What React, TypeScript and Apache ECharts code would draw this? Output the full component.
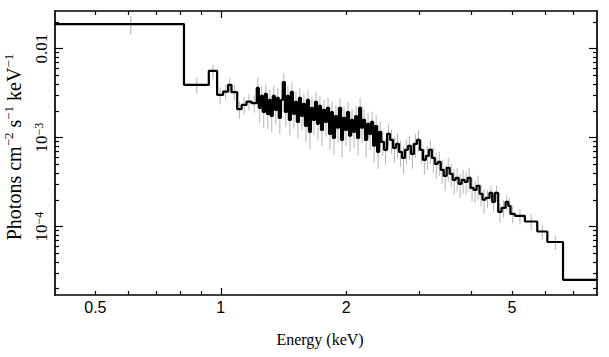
import { useEffect, useRef } from 'react';
import * as echarts from 'echarts';

// Energy bin edges (keV)
const binEdges = [
  0.4, 0.816, 0.936, 0.98, 1.013, 1.041, 1.061, 1.095, 1.122, 1.153, 1.185,
  1.220, 1.234, 1.247, 1.261, 1.275, 1.290, 1.304, 1.318, 1.333, 1.348,
  1.363, 1.378, 1.394, 1.409, 1.425, 1.441, 1.457, 1.473, 1.490, 1.506,
  1.523, 1.540, 1.557, 1.574, 1.592, 1.610, 1.628, 1.646, 1.664, 1.683,
  1.702, 1.720, 1.740, 1.759, 1.779, 1.799, 1.819, 1.839, 1.859, 1.880,
  1.901, 1.922, 1.944, 1.965, 1.987, 2.009, 2.032, 2.055, 2.077, 2.101,
  2.124, 2.148, 2.172, 2.196, 2.220, 2.245, 2.270, 2.295, 2.321, 2.347,
  2.373, 2.400,
  2.426, 2.466, 2.507, 2.549, 2.591, 2.634, 2.678, 2.723, 2.768, 2.814,
  2.861, 2.908, 2.957, 3.006, 3.056, 3.106, 3.158, 3.211, 3.264, 3.318,
  3.373, 3.429, 3.486, 3.544, 3.603, 3.663, 3.724, 3.786, 3.849, 3.913,
  3.978, 4.044, 4.111, 4.180, 4.249,
  4.319, 4.416, 4.483, 4.548, 4.634, 4.72, 4.826, 4.898, 4.961,
  5.08, 5.37, 5.75, 6.08, 6.63,
  8.0,
];

// Photons cm^-2 s^-1 keV^-1 per bin
const flux = [
  0.0189, 3.91e-3, 5.62e-3, 3.02e-3, 3.29e-3, 3.91e-3, 3.24e-3, 2.09e-3, 2.33e-3, 2.54e-3, 2.44e-3,
  3.62e-3, 2.16e-3, 2.94e-3, 1.94e-3, 3.10e-3, 1.85e-3, 2.65e-3, 1.75e-3, 2.94e-3, 2.05e-3,
  2.79e-3, 1.67e-3, 2.65e-3, 4.22e-3, 1.94e-3, 2.94e-3, 1.58e-3, 3.26e-3, 1.85e-3, 2.52e-3,
  1.50e-3, 2.79e-3, 1.75e-3, 2.39e-3, 1.35e-3, 2.65e-3, 1.16e-3, 2.16e-3, 1.58e-3, 2.52e-3,
  1.43e-3, 2.27e-3, 1.22e-3, 2.05e-3, 1.50e-3, 2.16e-3, 1.10e-3, 1.94e-3, 9.9e-4, 1.75e-3,
  1.29e-3, 2.16e-3, 9.4e-4, 1.67e-3, 1.22e-3, 1.94e-3, 1.05e-3, 1.58e-3, 1.16e-3, 1.75e-3,
  9.9e-4, 2.16e-3, 1.29e-3, 1.58e-3, 9.4e-4, 1.43e-3, 1.10e-3, 1.50e-3, 8.1e-4, 1.35e-3,
  6.9e-4, 1.16e-3,
  8.95e-4, 7.28e-4, 1.10e-3, 9.42e-4, 7.66e-4, 8.50e-4, 6.91e-4, 5.91e-4, 7.28e-4, 8.07e-4,
  6.56e-4, 8.50e-4, 9.42e-4, 7.28e-4, 5.62e-4, 6.23e-4, 7.28e-4, 5.91e-4, 5.06e-4, 5.33e-4,
  4.34e-4, 3.71e-4, 4.57e-4, 3.91e-4, 3.35e-4, 3.53e-4, 3.02e-4, 3.35e-4, 3.18e-4, 3.53e-4,
  2.72e-4, 2.59e-4, 2.87e-4, 2.33e-4, 2.00e-4,
  2.10e-4, 2.39e-4, 1.89e-4, 2.39e-4, 1.46e-4, 1.62e-4, 1.89e-4, 1.71e-4, 1.39e-4,
  1.32e-4, 1.14e-4, 8.8e-5, 6.7e-5, 2.52e-5,
];

// 1-sigma error as a fraction of the bin value
const errFrac = [
  0.24, 0.2, 0.18, 0.22, 0.2, 0.2, 0.2, 0.22, 0.22, 0.2, 0.22,
  0.3, 0.32, 0.3, 0.34, 0.28, 0.32, 0.3, 0.34, 0.3, 0.32,
  0.3, 0.34, 0.3, 0.26, 0.32, 0.3, 0.34, 0.28, 0.32, 0.3,
  0.34, 0.3, 0.32, 0.3, 0.34, 0.3, 0.36, 0.3, 0.32, 0.3,
  0.34, 0.3, 0.34, 0.3, 0.32, 0.3, 0.34, 0.3, 0.36, 0.32,
  0.32, 0.3, 0.36, 0.32, 0.34, 0.3, 0.34, 0.32, 0.34, 0.3,
  0.36, 0.28, 0.32, 0.32, 0.36, 0.32, 0.34, 0.3, 0.36, 0.32,
  0.36, 0.32,
  0.3, 0.32, 0.28, 0.3, 0.32, 0.3, 0.32, 0.34, 0.3, 0.3,
  0.32, 0.3, 0.28, 0.3, 0.32, 0.3, 0.3, 0.32, 0.32, 0.3,
  0.3, 0.32, 0.3, 0.3, 0.32, 0.3, 0.3, 0.3, 0.28, 0.3,
  0.3, 0.28, 0.3, 0.28, 0.3,
  0.22, 0.2, 0.22, 0.2, 0.24, 0.22, 0.2, 0.22, 0.22,
  0.2, 0.2, 0.18, 0.18, 0,
];

const xRange = [0.4, 8.0];
const yRange = [1.7e-5, 0.0265];

const xMajorTicks = [1];
const xMinorTicks = [0.5, 0.6, 0.7, 0.8, 0.9, 2, 3, 4, 5, 6, 7];
const xLabelValues = [0.5, 1, 2, 5];
const xLabelTexts = ['0.5', '1', '2', '5'];

const yMajorTicks = [1e-4, 1e-3, 1e-2];
const yMinorTicks = [
  2e-5, 3e-5, 4e-5, 5e-5, 6e-5, 7e-5, 8e-5, 9e-5,
  2e-4, 3e-4, 4e-4, 5e-4, 6e-4, 7e-4, 8e-4, 9e-4,
  2e-3, 3e-3, 4e-3, 5e-3, 6e-3, 7e-3, 8e-3, 9e-3,
  2e-2,
];
const yLabelValues = [1e-4, 1e-3, 1e-2];
const yLabelTexts = ['10{sup|−4}', '10{sup|−3}', '0.01'];

const xTitle = 'Energy (keV)';
const yTitle = 'Photons cm{sup|−2} s{sup|−1} keV{sup|−1}';

const SERIF = '"Liberation Serif", "Times New Roman", serif';
const SANS = '"Liberation Sans", Arial, sans-serif';
const L = (v: number) => Math.log10(v);

function lookup(values: number[], texts: string[], v: number) {
  for (let i = 0; i < values.length; i++) {
    if (Math.abs(L(values[i]) - v) < 1e-6) return texts[i];
  }
  return '';
}

export default function App() {
  const ref = useRef<HTMLDivElement>(null);
  useEffect(() => {
    if (!ref.current) return;
    const chart = echarts.init(ref.current, null, { renderer: 'svg' });

    const stepData = binEdges.map((e, i) => [L(e), L(flux[Math.min(i, flux.length - 1)])]);
    const errData: number[][] = [];
    flux.forEach((f, i) => {
      const e = errFrac[i];
      if (e > 0) {
        const c = (binEdges[i] + binEdges[i + 1]) / 2;
        errData.push([L(c), L(f * (1 - e)), L(f * (1 + e))]);
      }
    });

    const lineStyle = { color: '#000', width: 1.7 };
    const xBase = {
      type: 'value' as const,
      min: L(xRange[0]),
      max: L(xRange[1]),
      splitLine: { show: false },
      axisLabel: { show: false },
    };
    const yBase = {
      type: 'value' as const,
      min: L(yRange[0]),
      max: L(yRange[1]),
      splitLine: { show: false },
      axisLabel: { show: false },
    };
    const tick = (vals: number[], len: number) => ({
      show: true,
      inside: true,
      length: len,
      customValues: vals.map(L),
      lineStyle: { color: '#000', width: 1.2 },
    });
    const shownLine = { show: true, onZero: false, lineStyle };
    const hiddenLine = { show: false, onZero: false };

    chart.setOption({
      animation: false,
      backgroundColor: '#fff',
      grid: { left: 55, top: 11, right: 12, bottom: 62, containLabel: false, outerBoundsMode: 'none' },
      xAxis: [
        {
          ...xBase,
          position: 'bottom',
          axisLine: shownLine,
          axisTick: tick(xMajorTicks, 7),
          axisLabel: {
            show: true,
            customValues: xLabelValues.map(L),
            formatter: (v: number) => lookup(xLabelValues, xLabelTexts, v),
            fontFamily: SANS,
            fontSize: 16,
            color: '#000',
            margin: 4,
          },
          name: xTitle,
          nameLocation: 'middle',
          nameGap: 36,
          nameTextStyle: { fontFamily: SERIF, fontSize: 16, color: '#000', padding: [0, 12, 0, 0] },
        },
        { ...xBase, position: 'bottom', axisLine: hiddenLine, axisTick: tick(xMinorTicks, 4) },
        { ...xBase, position: 'top', axisLine: shownLine, axisTick: tick(xMajorTicks, 7) },
        { ...xBase, position: 'top', axisLine: hiddenLine, axisTick: tick(xMinorTicks, 4) },
      ],
      yAxis: [
        {
          ...yBase,
          position: 'left',
          axisLine: shownLine,
          axisTick: tick(yMajorTicks, 8),
          axisLabel: {
            show: true,
            customValues: yLabelValues.map(L),
            formatter: (v: number) => lookup(yLabelValues, yLabelTexts, v),
            rotate: 90,
            fontFamily: SERIF,
            fontSize: 17,
            color: '#000',
            margin: 5,
            rich: {
              sup: { fontFamily: SERIF, fontSize: 12, lineHeight: 12, verticalAlign: 'top', color: '#000' },
            },
          },
          name: yTitle,
          nameLocation: 'middle',
          nameRotate: 90,
          nameGap: 22,
          nameTextStyle: {
            fontFamily: SERIF,
            fontSize: 20,
            lineHeight: 23,
            color: '#000',
            padding: [0, 0, 0, 12],
            rich: {
              sup: { fontFamily: SERIF, fontSize: 13, lineHeight: 13, verticalAlign: 'top', color: '#000' },
            },
          },
        },
        { ...yBase, position: 'left', axisLine: hiddenLine, axisTick: tick(yMinorTicks, 4) },
        { ...yBase, position: 'right', axisLine: shownLine, axisTick: tick(yMajorTicks, 8) },
        { ...yBase, position: 'right', axisLine: hiddenLine, axisTick: tick(yMinorTicks, 4) },
      ],
      series: [
        {
          type: 'custom',
          xAxisIndex: 0,
          yAxisIndex: 0,
          clip: true,
          encode: { x: 0, y: [1, 2] },
          data: errData,
          z: 1,
          renderItem: (params: any, api: any) => {
            const p1 = api.coord([api.value(0), api.value(1)]);
            const p2 = api.coord([api.value(0), api.value(2)]);
            return {
              type: 'line',
              shape: { x1: p1[0], y1: p1[1], x2: p2[0], y2: p2[1] },
              style: { stroke: '#b4b4b4', lineWidth: 1 },
            };
          },
        },
        {
          type: 'line',
          xAxisIndex: 0,
          yAxisIndex: 0,
          step: 'end',
          data: stepData,
          symbol: 'none',
          clip: true,
          z: 2,
          lineStyle: { color: '#000', width: 2.2 },
        },
      ],
    });
    return () => chart.dispose();
  }, []);
  return <div ref={ref} style={{ position: 'absolute', left: 0, top: 0, width: 609, height: 357 }} />;
}
